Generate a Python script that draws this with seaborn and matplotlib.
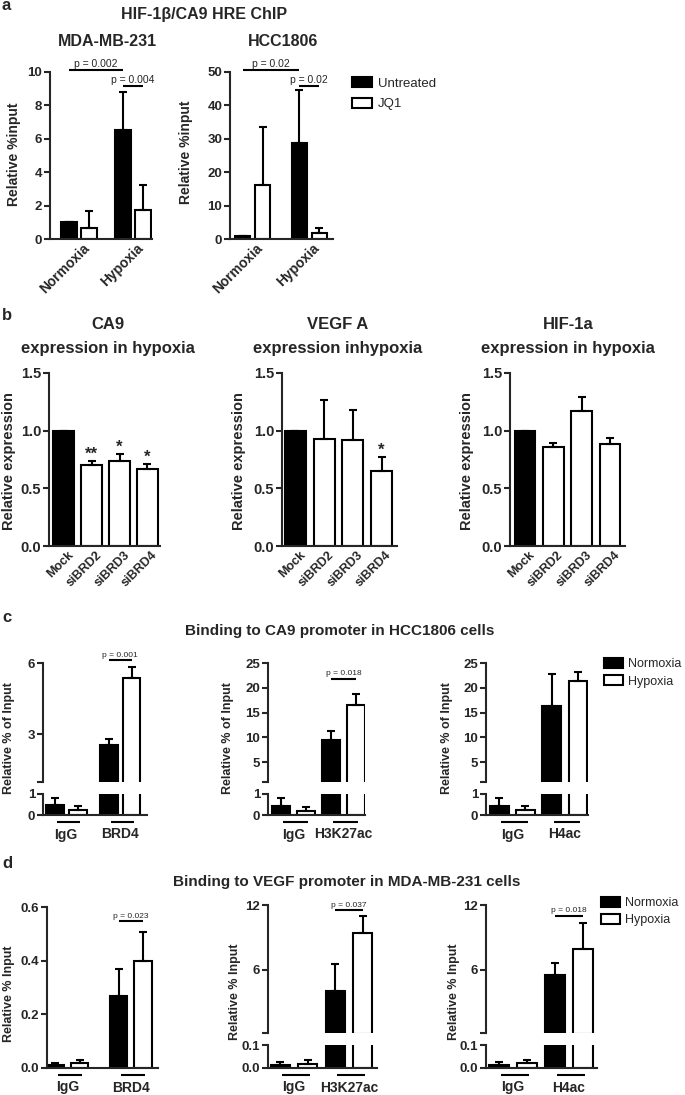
import numpy as np
import pandas as pd
import matplotlib
matplotlib.use('Agg')
import matplotlib.pyplot as plt
import matplotlib.transforms as mtransforms
from matplotlib.patches import Patch
import seaborn as sns

# ---------------- data ----------------
# a: HIF-1b/CA9 HRE ChIP  (Normoxia-Untreated, Normoxia-JQ1, Hypoxia-Untreated, Hypoxia-JQ1)
a_groups = ['Normoxia', 'Hypoxia']
a_conds = ['Untreated', 'JQ1']
mda_vals = [1.0, 0.66, 6.5, 1.72]
mda_errs = [0.0, 1.0, 2.3, 1.54]
hcc_vals = [1.0, 16.3, 28.8, 1.9]
hcc_errs = [0.0, 17.1, 15.8, 1.5]

# b: expression in hypoxia after siRNA
b_labels = ['Mock', 'siBRD2', 'siBRD3', 'siBRD4']
ca9_vals = [1.0, 0.705, 0.735, 0.67]
ca9_errs = [0.0, 0.03, 0.06, 0.04]
ca9_stars = ['', '**', '*', '*']
vegf_vals = [1.0, 0.93, 0.92, 0.65]
vegf_errs = [0.0, 0.34, 0.26, 0.12]
vegf_stars = ['', '', '', '*']
hif_vals = [1.0, 0.855, 1.17, 0.885]
hif_errs = [0.0, 0.035, 0.12, 0.05]
hif_stars = ['', '', '', '']

# c / d: ChIP binding  (IgG-Normoxia, IgG-Hypoxia, target-Normoxia, target-Hypoxia)
cd_conds = ['Normoxia', 'Hypoxia']
cd_targets = ['BRD4', 'H3K27ac', 'H4ac']
c_vals = [[0.48, 0.24, 2.55, 5.35], [0.45, 0.21, 9.4, 16.5], [0.45, 0.24, 16.4, 21.3]]
c_errs = [[0.33, 0.2, 0.25, 0.5], [0.35, 0.19, 1.9, 2.3], [0.35, 0.2, 6.3, 1.9]]
c_pvals = ['p = 0.001', 'p = 0.018', None]
d_vals = [[0.012, 0.018, 0.27, 0.40], [0.015, 0.016, 4.0, 9.4], [0.015, 0.022, 5.5, 7.9]]
d_errs = [[0.007, 0.013, 0.10, 0.105], [0.01, 0.018, 2.5, 1.6], [0.009, 0.012, 1.1, 2.4]]
d_pvals = ['p = 0.023', 'p = 0.037', 'p = 0.018']

# ---------------- style ----------------
sns.set_style('ticks')
plt.rcParams['font.family'] = ['Liberation Sans', 'DejaVu Sans']
plt.rcParams['font.weight'] = 'bold'

W, H = 685, 1095
LW = 1.5
fig = plt.figure(figsize=(W / 100, H / 100), dpi=100)


def px_axes(x0, y0, x1, y1):
    return fig.add_axes([x0 / W, 1 - y1 / H, (x1 - x0) / W, (y1 - y0) / H])


def clean(ax, ylim, yticks, yticklabels=None, bottom=True, tsize=9.5):
    ax.set_ylim(*ylim)
    ax.set_yticks(yticks)
    if yticklabels is not None:
        ax.set_yticklabels(yticklabels)
    ax.set_xlabel('')
    ax.set_ylabel('')
    ax.spines['top'].set_visible(False)
    ax.spines['right'].set_visible(False)
    ax.spines['left'].set_linewidth(LW)
    ax.spines['bottom'].set_linewidth(LW)
    if not bottom:
        ax.spines['bottom'].set_visible(False)
        ax.set_xticks([])
    ax.tick_params(axis='y', width=LW, length=4, labelsize=tsize, pad=1.5)
    ax.tick_params(axis='x', length=0)


def add_err(ax, xs, vals, errs, ymin):
    # only error bars that reach into the visible range (broken axes)
    keep = [i for i in range(len(vals)) if vals[i] + errs[i] > ymin]
    ax.errorbar([xs[i] for i in keep], [vals[i] for i in keep],
                yerr=[np.zeros(len(keep)), [errs[i] for i in keep]], fmt='none',
                ecolor='black', elinewidth=LW, capsize=3, capthick=LW)


def grouped(ax, groups, conds, vals, errs, width, gap, ymin=0):
    df = pd.DataFrame({'group': np.repeat(groups, len(conds)),
                       'cond': list(conds) * len(groups),
                       'val': vals})
    sns.barplot(data=df, x='group', y='val', hue='cond', order=groups, hue_order=conds,
                palette=['black', 'white'], width=width, gap=gap, errorbar=None,
                legend=False, edgecolor='black', linewidth=LW, ax=ax)
    bars = sorted(ax.patches, key=lambda p: p.get_x())
    xs = [p.get_x() + p.get_width() / 2 for p in bars]
    # bars that stay below an upper (broken) segment are not drawn there
    for p in bars:
        if ymin > 0 and p.get_height() <= ymin:
            p.set_visible(False)
    add_err(ax, xs, vals, errs, ymin)
    return xs


def single(ax, labels, vals, errs, width):
    sns.barplot(x=labels, y=vals, hue=labels, palette=['black', 'white', 'white', 'white'],
                width=width, errorbar=None, legend=False, edgecolor='black', linewidth=LW, ax=ax)
    bars = sorted(ax.patches, key=lambda p: p.get_x())
    xs = [p.get_x() + p.get_width() / 2 for p in bars]
    add_err(ax, xs, vals, errs, 0)
    return xs


def rot_labels(ax, labels, size, dx, pad):
    ax.set_xticks(range(len(labels)))
    ax.set_xticklabels(labels, rotation=45, ha='right', va='center', rotation_mode='anchor',
                       fontsize=size, fontweight='bold')
    ax.tick_params(axis='x', pad=pad)
    off = mtransforms.ScaledTranslation(dx / 100, 0, fig.dpi_scale_trans)
    for t in ax.get_xticklabels():
        t.set_transform(t.get_transform() + off)


def pline(ax, x1, x2, y, text, size):
    ax.plot([x1, x2], [y, y], color='black', lw=LW, clip_on=False, solid_capstyle='butt')
    ax.annotate(text, ((x1 + x2) / 2, y), xytext=(0, 1), textcoords='offset points',
                ha='center', va='bottom', fontsize=size, fontweight='normal', annotation_clip=False)


def group_under(ax, xs, labels):
    tr = mtransforms.offset_copy(ax.get_xaxis_transform(), fig=fig, y=-7, units='dots')
    for i in range(len(labels)):
        ax.plot([xs[2 * i] + 0.04, xs[2 * i + 1] + 0.04], [0, 0], color='black', lw=LW,
                transform=tr, clip_on=False, solid_capstyle='butt')
    ax.set_xticks([0, 1])
    ax.set_xticklabels(labels, fontsize=10, fontweight='bold')
    ax.tick_params(axis='x', pad=9)


def ylab(x, y, text, size):
    fig.text(x / W, 1 - y / H, text, rotation=90, ha='center', va='center',
             fontsize=size, fontweight='bold')


def legend(x, y, labels, spacing, size):
    handles = [Patch(facecolor='black', edgecolor='black', linewidth=LW),
               Patch(facecolor='white', edgecolor='black', linewidth=LW)]
    fig.legend(handles, labels, loc='upper left', bbox_to_anchor=(x / W, 1 - y / H),
               frameon=False, prop={'size': size, 'weight': 'normal'}, handlelength=1.5,
               handleheight=0.8, handletextpad=0.45, labelspacing=spacing,
               borderpad=0, borderaxespad=0)


# ---------------- panel a ----------------
fig.text(2 / W, 1 - 6 / H, 'a', fontsize=12, fontweight='bold', va='center')
fig.text(204 / W, 1 - 14 / H, 'HIF-1\u03b2/CA9 HRE ChIP', fontsize=11.5, ha='center', va='center')

ax = px_axes(50, 72, 152, 239)
xs = grouped(ax, a_groups, a_conds, mda_vals, mda_errs, 0.76, 0.22)
clean(ax, (0, 10), [0, 2, 4, 6, 8, 10])
ax.set_xlim(-0.54, 1.35)
rot_labels(ax, a_groups, 10, 8, 5)
pline(ax, xs[0], xs[2], 10.1, 'p = 0.002', 7.5)
pline(ax, xs[2], xs[3], 9.16, 'p = 0.004', 7.5)
fig.text(107 / W, 1 - 41 / H, 'MDA-MB-231', fontsize=11.5, ha='center', va='center')
ylab(14, 154, 'Relative %input', 10)

ax = px_axes(230, 72, 333, 239)
xs = grouped(ax, a_groups, a_conds, hcc_vals, hcc_errs, 0.71, 0.25)
clean(ax, (0, 50), [0, 10, 20, 30, 40, 50])
ax.set_xlim(-0.4, 1.42)
rot_labels(ax, a_groups, 10, 8, 5)
pline(ax, xs[0], xs[2], 50.5, 'p = 0.02', 7.5)
pline(ax, xs[2], xs[3], 45.7, 'p = 0.02', 7.5)
fig.text(283 / W, 1 - 41 / H, 'HCC1806', fontsize=11.5, ha='center', va='center')
ylab(186, 152, 'Relative %input', 10)

legend(352, 77, a_conds, 0.6, 9.5)

# ---------------- panel b ----------------
fig.text(2 / W, 1 - 315 / H, 'b', fontsize=12, fontweight='bold', va='center')
b_panels = [
    ((49, 160), (-0.53, 3.45), ca9_vals, ca9_errs, ca9_stars, 'CA9', 'expression in hypoxia', 108, 9),
    ((282, 397), (-0.47, 3.54), vegf_vals, vegf_errs, vegf_stars, 'VEGF A', 'expression inhypoxia', 338, 239),
    ((510, 625), (-0.53, 3.53), hif_vals, hif_errs, hif_stars, 'HIF-1a', 'expression in hypoxia', 568, 467),
]
for (x0, x1), xlim, vals, errs, stars, t1, t2, tx, lx in b_panels:
    ax = px_axes(x0, 373, x1, 546)
    xs = single(ax, b_labels, vals, errs, 0.74)
    clean(ax, (0, 1.5), [0, 0.5, 1.0, 1.5], ['0.0', '0.5', '1.0', '1.5'], tsize=10.5)
    ax.set_xlim(*xlim)
    rot_labels(ax, b_labels, 9, 8, 5)
    for x, v, e, s in zip(xs, vals, errs, stars):
        if s:
            ax.annotate(s, (x, v + e), xytext=(0, 2), textcoords='offset points',
                        ha='center', va='baseline', fontsize=12, fontweight='bold')
    fig.text(tx / W, 1 - 325 / H, t1, fontsize=12, ha='center', va='center')
    fig.text(tx / W, 1 - 348 / H, t2, fontsize=12, ha='center', va='center')
    ylab(lx, 461, 'Relative expression', 10.5)

# ---------------- panel c ----------------
fig.text(2 / W, 1 - 618 / H, 'c', fontsize=12, fontweight='bold', va='center')
fig.text(340 / W, 1 - 631 / H, 'Binding to CA9 promoter in HCC1806 cells', fontsize=11,
         ha='center', va='center')
c_layout = [
    ((43, 147), (1, 6), [1, 3, 6], 0.85, 0.22, (-0.43, 1.5), 9, 6.13),
    ((268, 365), (1, 25), [1, 5, 10, 15, 20, 25], 1.0, 0.28, (-0.51, 1.43), 228, 21.8),
    ((486, 588), (1, 25), [1, 5, 10, 15, 20, 25], 1.0, 0.28, (-0.5, 1.44), 447, None),
]
for i, ((x0, x1), tlim, tticks, w, gap, xlim, lx, py) in enumerate(c_layout):
    groups = ['IgG', cd_targets[i]]
    top = px_axes(x0, 663, x1, 782)
    xs = grouped(top, groups, cd_conds, c_vals[i], c_errs[i], w, gap, ymin=tlim[0])
    clean(top, tlim, tticks, [''] + [str(t) for t in tticks[1:]], bottom=False)
    top.set_xlim(*xlim)
    bot = px_axes(x0, 794, x1, 815)
    grouped(bot, groups, cd_conds, c_vals[i], c_errs[i], w, gap)
    clean(bot, (0, 1), [0, 1])
    bot.set_xlim(*xlim)
    group_under(bot, xs, groups)
    if c_pvals[i]:
        pline(top, xs[2], xs[3], py, c_pvals[i], 6)
    ylab(lx, 738, 'Relative % of Input', 9)

legend(604, 658, cd_conds, 0.42, 9)

# ---------------- panel d ----------------
fig.text(2 / W, 1 - 864 / H, 'd', fontsize=12, fontweight='bold', va='center')
fig.text(347 / W, 1 - 882 / H, 'Binding to VEGF promoter in MDA-MB-231 cells', fontsize=11,
         ha='center', va='center')

ax = px_axes(47, 907, 158, 1068)
groups = ['IgG', cd_targets[0]]
xs = grouped(ax, groups, cd_conds, d_vals[0], d_errs[0], 0.77, 0.27)
clean(ax, (0, 0.6), [0, 0.2, 0.4, 0.6], ['0.0', '0.2', '0.4', '0.6'])
ax.set_xlim(-0.32, 1.43)
group_under(ax, xs, groups)
pline(ax, xs[2], xs[3], 0.548, d_pvals[0], 6)
ylab(9, 994, 'Relative % Input', 9)

d_layout = [
    ((268, 377), (-0.47, 1.51), 235, 11.5),
    ((486, 597), (-0.48, 1.5), 454, 11.0),
]
for j, ((x0, x1), xlim, lx, py) in enumerate(d_layout):
    i = j + 1
    groups = ['IgG', cd_targets[i]]
    top = px_axes(x0, 905, x1, 1033)
    xs = grouped(top, groups, cd_conds, d_vals[i], d_errs[i], 1.0, 0.31, ymin=0.1)
    clean(top, (0.1, 12), [0.1, 6, 12], ['', '6', '12'], bottom=False)
    top.set_xlim(*xlim)
    bot = px_axes(x0, 1045, x1, 1068)
    grouped(bot, groups, cd_conds, d_vals[i], d_errs[i], 1.0, 0.31)
    clean(bot, (0, 0.1), [0, 0.1], ['0.0', '0.1'])
    bot.set_xlim(*xlim)
    group_under(bot, xs, groups)
    pline(top, xs[2], xs[3], py, d_pvals[i], 6)
    ylab(lx, 992, 'Relative % Input', 9)

legend(601, 897, cd_conds, 0.42, 9)

fig.savefig('out.png', dpi=100)
